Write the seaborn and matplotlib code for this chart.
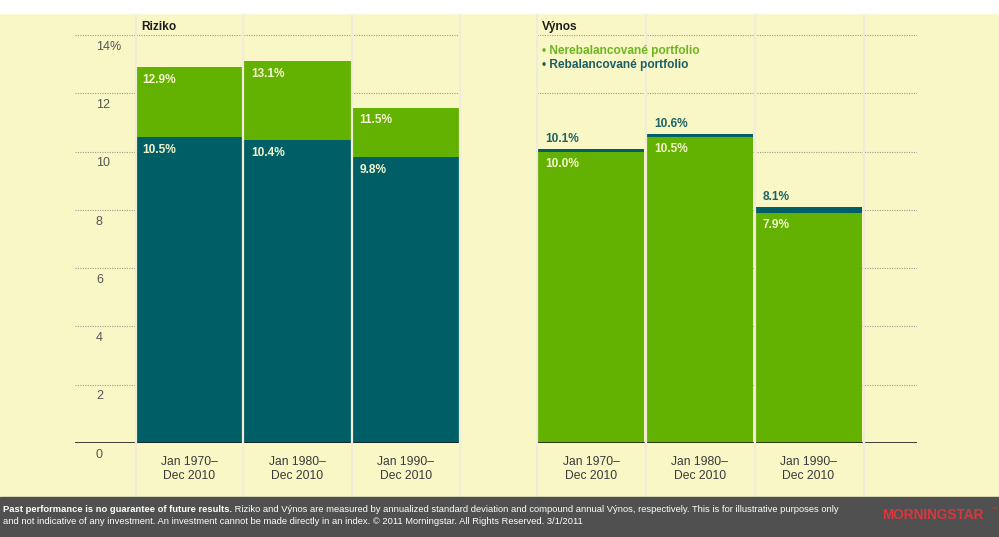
import matplotlib
matplotlib.use("Agg")
import matplotlib.pyplot as plt
import matplotlib.transforms as mtransforms
from matplotlib.patches import Rectangle
from matplotlib.lines import Line2D
from matplotlib.text import Annotation
import seaborn as sns
import pandas as pd

# ---- data -------------------------------------------------------------
periods = ["Jan 1970–\nDec 2010", "Jan 1980–\nDec 2010", "Jan 1990–\nDec 2010"]
risk_unrebalanced = [12.9, 13.1, 11.5]
risk_rebalanced = [10.5, 10.4, 9.8]
return_unrebalanced = [10.0, 10.5, 7.9]
return_rebalanced = [10.1, 10.6, 8.1]
y_ticks = [0, 2, 4, 6, 8, 10, 12, 14]
y_tick_labels = ["0", "2", "4", "6", "8", "10", "12", "14%"]
series_names = ["Nerebalancované portfolio", "Rebalancované portfolio"]
panel_titles = ["Riziko", "Výnos"]

# ---- style ------------------------------------------------------------
CREAM = "#FAF7C6"
GREEN = "#63B100"
TEAL = "#005F66"
PALE = "#F4F4CC"
GRID = "#9C9A88"
SEP = "#EFEDD9"
FOOTER = "#505050"
LOGO_RED = "#D9363E"

sns.set_theme(style="white")
plt.rcParams["font.family"] = ["Liberation Sans", "DejaVu Sans"]

W, H = 999, 537
fig = plt.figure(figsize=(W / 100, H / 100), dpi=100, facecolor=CREAM)

PX_PER_UNIT = 29.14
BASE_Y = 443
TOP_Y = 13
YMAX = (BASE_Y - TOP_Y) / PX_PER_UNIT
BAR_W = 0.98


def px_axes(x0, x1):
    return fig.add_axes([x0 / W, 1 - BASE_Y / H, (x1 - x0) / W, (BASE_Y - TOP_Y) / H])


ax_risk = px_axes(75, 460)
ax_ret = px_axes(537, 917)

for ax in (ax_risk, ax_ret):
    ax.set_facecolor(CREAM)
    for s in ax.spines.values():
        s.set_visible(False)
    for v in y_ticks[1:]:
        ax.axhline(v, ls=(0, (1, 1.2)), color=GRID, lw=0.8, zorder=0)

# Risk: unrebalanced behind, rebalanced in front
df_risk = pd.DataFrame({"period": periods, "unreb": risk_unrebalanced, "reb": risk_rebalanced})
sns.barplot(data=df_risk, x="period", y="unreb", color=GREEN, saturation=1,
            width=BAR_W, linewidth=0, ax=ax_risk, zorder=2)
sns.barplot(data=df_risk, x="period", y="reb", color=TEAL, saturation=1,
            width=BAR_W, linewidth=0, ax=ax_risk, zorder=3)

# Return: rebalanced behind, unrebalanced in front
df_ret = pd.DataFrame({"period": periods, "unreb": return_unrebalanced, "reb": return_rebalanced})
sns.barplot(data=df_ret, x="period", y="reb", color=TEAL, saturation=1,
            width=BAR_W, linewidth=0, ax=ax_ret, zorder=2)
sns.barplot(data=df_ret, x="period", y="unreb", color=GREEN, saturation=1,
            width=BAR_W, linewidth=0, ax=ax_ret, zorder=3)

ax_risk.set_xlim(-1.055, 2.5)
ax_ret.set_xlim(-0.5, 3.0)

for ax in (ax_risk, ax_ret):
    ax.set_ylim(0, YMAX)
    ax.set_xlabel("")
    ax.set_ylabel("")
    ax.set_yticks([])
    ax.set_xticks(range(len(periods)))
    ax.set_xticklabels(periods, fontsize=8.7, color="#3A3A3A", linespacing=1.25)
    ax.tick_params(axis="x", length=0, pad=9.5)
    ax.axhline(0, color="#1E1E1E", lw=1.2, zorder=5)

# y labels sit just below their gridlines
trans = mtransforms.blended_transform_factory(fig.transFigure, ax_risk.transData)
for v, lab in zip(y_ticks, y_tick_labels):
    ax_risk.text(96 / W, v - 0.4, lab, transform=trans, ha="left", va="center",
                 fontsize=9, color="#555555", clip_on=False)

lab_kw = dict(fontsize=8.6, fontweight="bold", ha="left", va="center", zorder=6)
for i in range(len(periods)):
    x0 = i - BAR_W / 2 + 0.06
    ax_risk.text(x0, risk_unrebalanced[i] - 0.43, f"{risk_unrebalanced[i]:.1f}%", color=PALE, **lab_kw)
    ax_risk.text(x0, risk_rebalanced[i] - 0.44, f"{risk_rebalanced[i]:.1f}%", color=PALE, **lab_kw)
    x1 = i - BAR_W / 2 + 0.07
    ax_ret.text(x1, return_rebalanced[i] + 0.33, f"{return_rebalanced[i]:.1f}%", color="#1D6464", **lab_kw)
    ax_ret.text(x1, return_unrebalanced[i] - 0.41, f"{return_unrebalanced[i]:.1f}%", color=PALE, **lab_kw)

# column separators (above bars, below the header texts)
for xs in (136, 243, 352, 460, 537, 646, 755, 864):
    fig.add_artist(Line2D([xs / W, xs / W], [1 - 497 / H, 1 - 13 / H], color=SEP, lw=1.6, zorder=10))

# panel titles and legend
head_kw = dict(fontsize=8.6, fontweight="bold", va="center", zorder=12)
fig.text(141 / W, 1 - 27 / H, panel_titles[0], color="#1E1E1E", **head_kw)
fig.text(542 / W, 1 - 27 / H, panel_titles[1], color="#1E1E1E", **head_kw)
fig.text(542 / W, 1 - 51 / H, "• " + series_names[0], color="#6DB521", **head_kw)
fig.text(542 / W, 1 - 65 / H, "• " + series_names[1], color="#1D5E60", **head_kw)

# top strip and footer band
fig.add_artist(Rectangle((0, 1 - 13 / H), 1, 13 / H, transform=fig.transFigure, color="white", zorder=11))
fig.add_artist(Rectangle((0, 0), 1, 40 / H, transform=fig.transFigure, color=FOOTER, zorder=11))

foot_kw = dict(fontsize=6.75, color="white", zorder=12)
t1 = fig.text(3 / W, 1 - 509 / H, "Past performance is no guarantee of future results.",
              fontweight="bold", va="center", **foot_kw)
fig.add_artist(Annotation(" Riziko and Výnos are measured by annualized standard deviation and compound annual Výnos, "
                          "respectively. This is for illustrative purposes only",
                          xy=(1, 0.5), xycoords=t1, va="center", ha="left", **foot_kw))
fig.text(3 / W, 1 - 521 / H,
         "and not indicative of any investment. An investment cannot be made directly in an index. "
         "© 2011 Morningstar. All Rights Reserved. 3/1/2011", va="center", **foot_kw)
fig.text(882 / W, 1 - 515 / H, "MORNINGSTAR", fontsize=9.8, fontweight="bold", color=LOGO_RED,
         va="center", zorder=12)
fig.text(990 / W, 1 - 509 / H, "™", fontsize=4.5, color=LOGO_RED, va="center", zorder=12)

fig.savefig("out.png", dpi=100, facecolor=CREAM)
